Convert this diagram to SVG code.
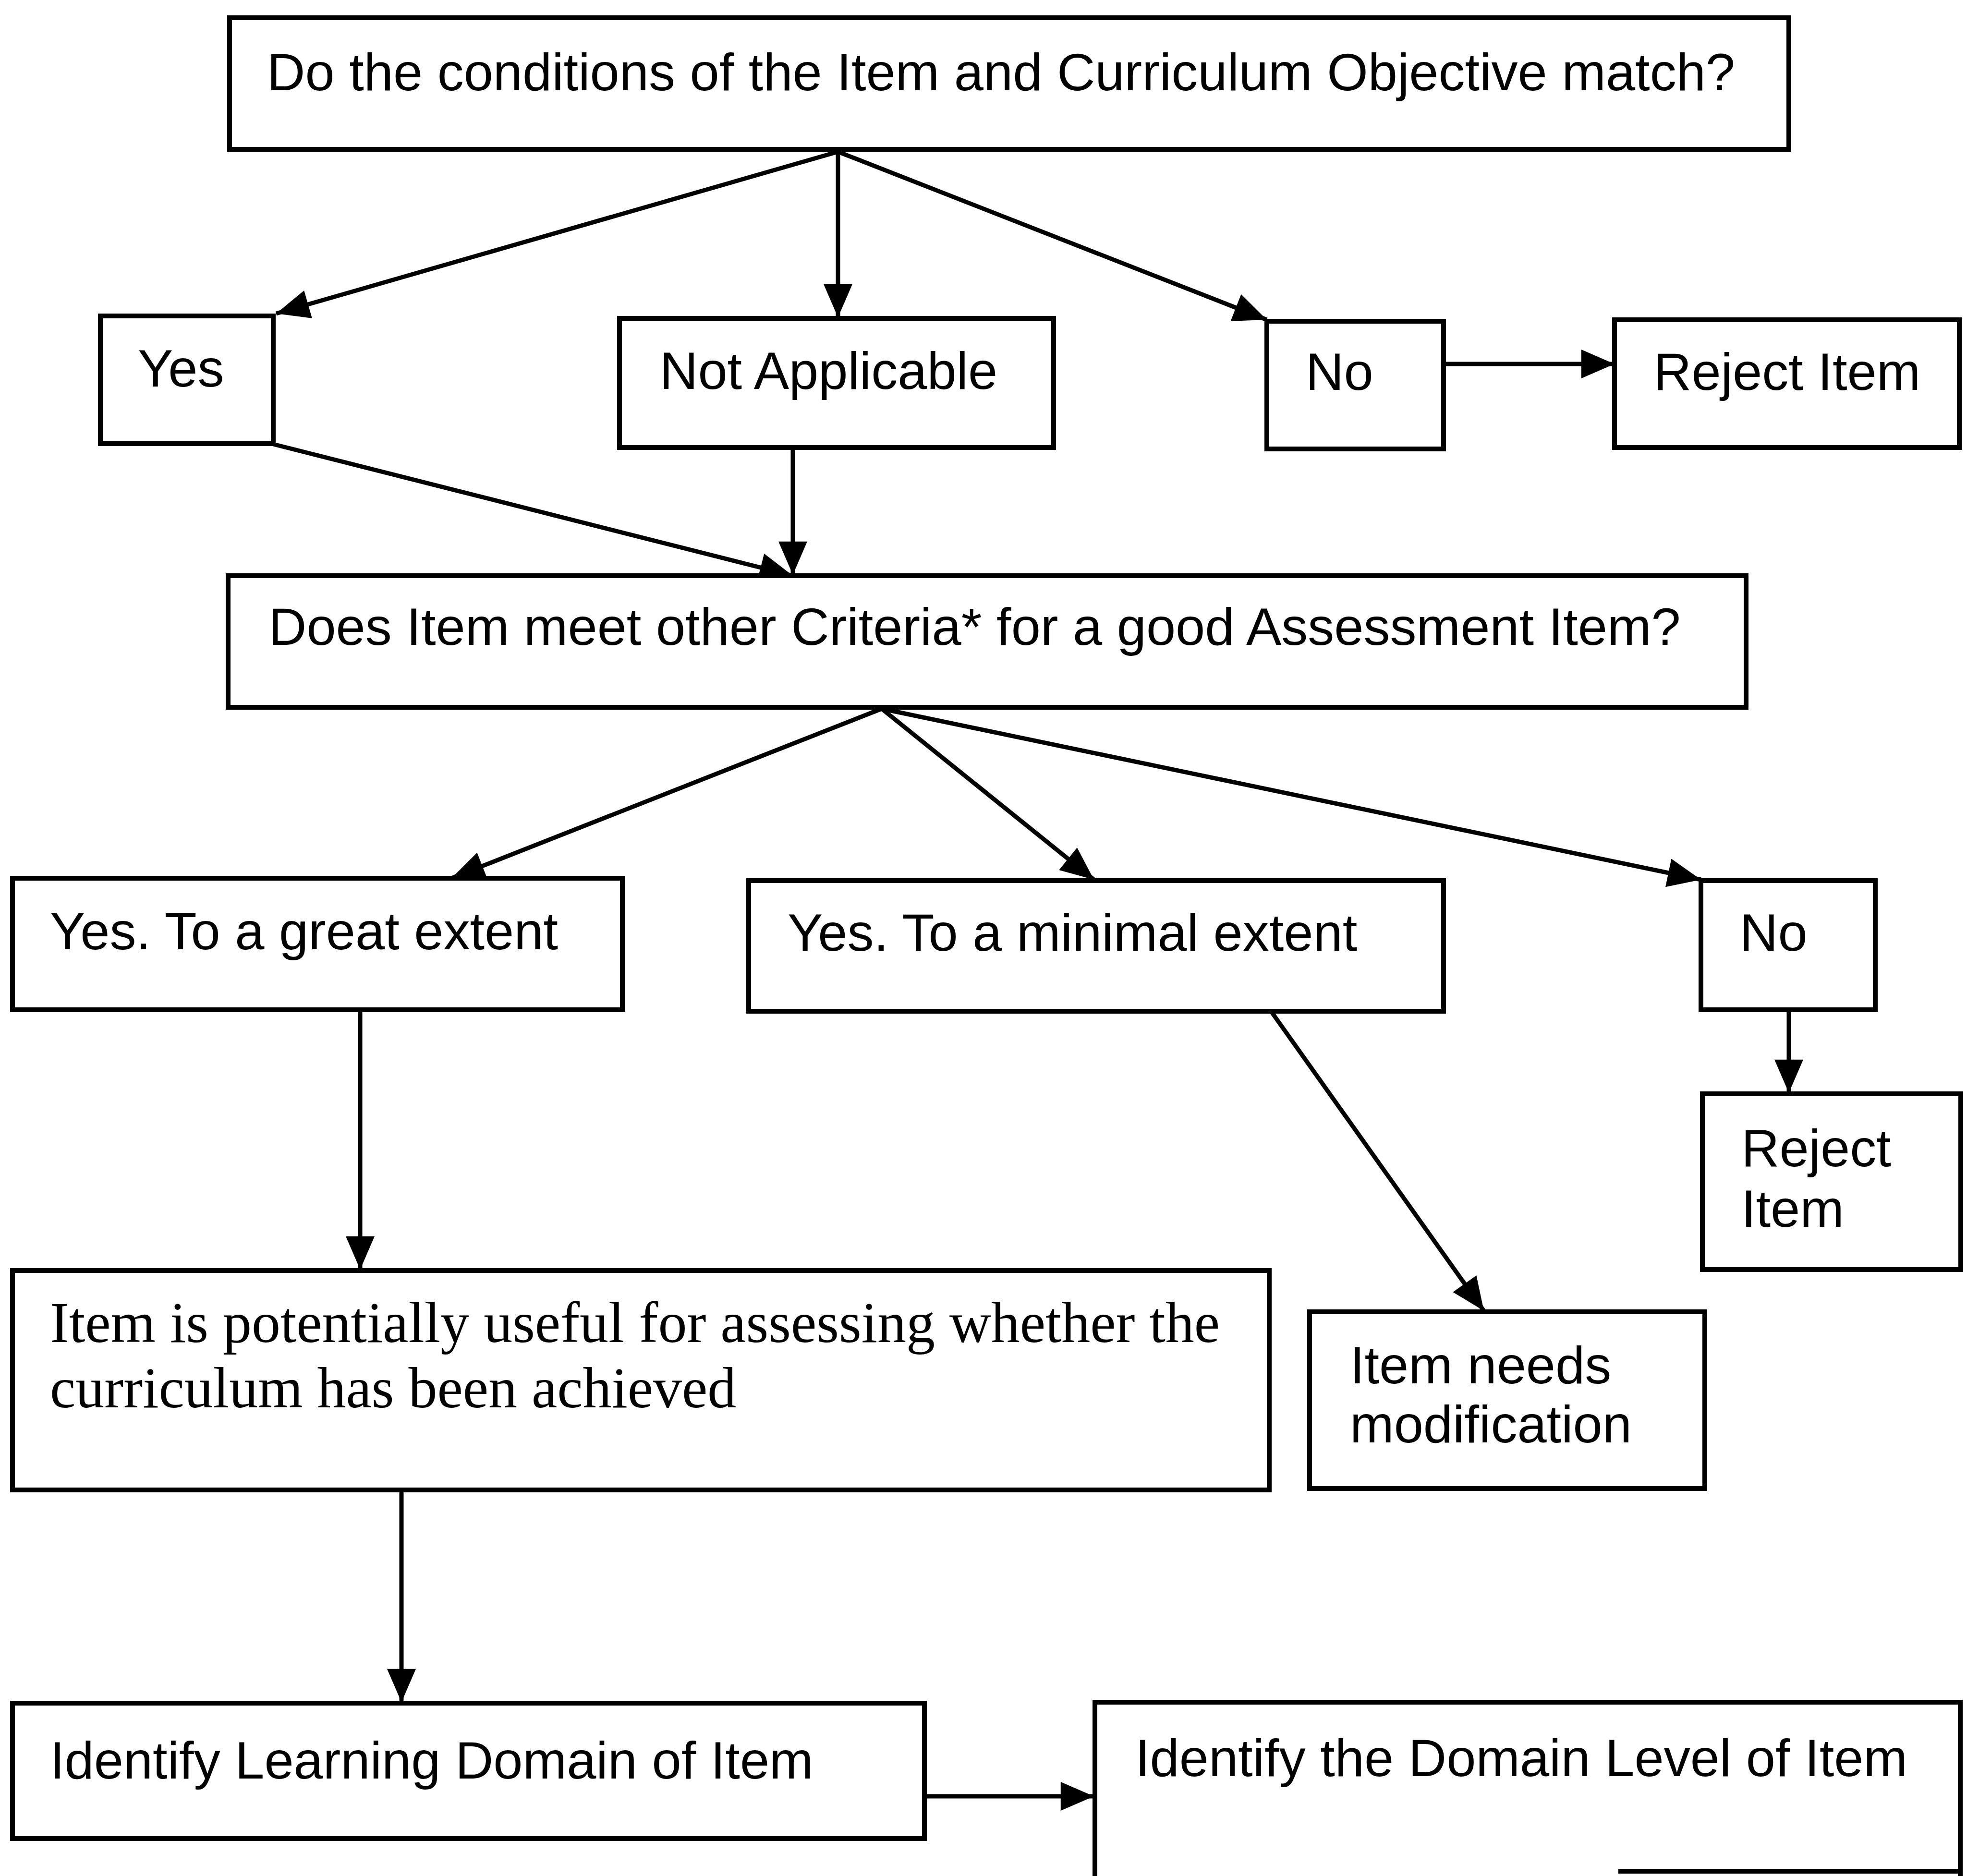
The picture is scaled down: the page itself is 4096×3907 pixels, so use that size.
<svg xmlns="http://www.w3.org/2000/svg" width="4096" height="3907" viewBox="0 0 4096 3907">
<style>
.box{fill:#fff;stroke:#000;stroke-width:10}
.t{font-family:"Liberation Sans",Arial,sans-serif;font-size:110px;fill:#000}
.s{font-family:"Liberation Serif","Times New Roman",serif;font-size:120px;fill:#000}
.c{stroke:#000;stroke-width:9;fill:none;marker-end:url(#ah)}
</style>
<defs>
<marker id="ah" markerUnits="userSpaceOnUse" markerWidth="70" markerHeight="60" viewBox="0 0 60 52" refX="60" refY="26" orient="auto">
<path d="M0,0 L60,26 L0,52 Z" fill="#000"/>
</marker>
</defs>
<rect width="4096" height="3907" fill="#fff"/>
<g id="connectors">
<line class="c" x1="1745" y1="316" x2="575" y2="653"/>
<line class="c" x1="1745" y1="316" x2="1745" y2="661"/>
<line class="c" x1="1745" y1="316" x2="2638" y2="666"/>
<line class="c" x1="3007" y1="758" x2="3362" y2="758"/>
<line class="c" x1="569" y1="925" x2="1651" y2="1199"/>
<line class="c" x1="1651" y1="933" x2="1651" y2="1197"/>
<line class="c" x1="1836" y1="1476" x2="940" y2="1829"/>
<line class="c" x1="1836" y1="1476" x2="2278" y2="1832"/>
<line class="c" x1="1836" y1="1476" x2="3542" y2="1832"/>
<line class="c" x1="3725" y1="2103" x2="3725" y2="2276"/>
<line class="c" x1="750" y1="2103" x2="750" y2="2644"/>
<line class="c" x1="2646" y1="2105" x2="3090" y2="2730"/>
<line class="c" x1="836" y1="3103" x2="836" y2="3545"/>
<line class="c" x1="1925" y1="3741" x2="2278" y2="3741"/>
</g>
<g id="q1">
<rect class="box" x="478" y="37" width="3247" height="274"/>
<text class="t" x="556" y="188">Do the conditions of the Item and Curriculum Objective match?</text>
</g>
<g id="yes1">
<rect class="box" x="209" y="658" width="360" height="266"/>
<text class="t" x="287" y="805">Yes</text>
</g>
<g id="na">
<rect class="box" x="1290" y="663" width="904" height="269"/>
<text class="t" x="1374" y="810">Not Applicable</text>
</g>
<g id="no1">
<rect class="box" x="2638" y="669" width="368" height="266"/>
<text class="t" x="2719" y="812">No</text>
</g>
<g id="reject1">
<rect class="box" x="3362" y="666" width="718" height="266"/>
<text class="t" x="3443" y="812">Reject Item</text>
</g>
<g id="q2">
<rect class="box" x="475" y="1199" width="3161" height="274"/>
<text class="t" x="559" y="1343">Does Item meet other Criteria* for a good Assessment Item?</text>
</g>
<g id="great">
<rect class="box" x="26" y="1829" width="1270" height="274"/>
<text class="t" x="104" y="1977">Yes. To a great extent</text>
</g>
<g id="minimal">
<rect class="box" x="1559" y="1834" width="1447" height="272"/>
<text class="t" x="1640" y="1980">Yes. To a minimal extent</text>
</g>
<g id="no2">
<rect class="box" x="3542" y="1834" width="363" height="269"/>
<text class="t" x="3623" y="1980">No</text>
</g>
<g id="reject2">
<rect class="box" x="3545" y="2278" width="538" height="366"/>
<text class="t" x="3626" y="2429">Reject</text>
<text class="t" x="3626" y="2555">Item</text>
</g>
<g id="useful">
<rect class="box" x="26" y="2646" width="2617" height="457"/>
<text class="s" x="104" y="2795">Item is potentially useful for assessing whether the</text>
<text class="s" x="104" y="2931">curriculum has been achieved</text>
</g>
<g id="modify">
<rect class="box" x="2727" y="2732" width="823" height="368"/>
<text class="t" x="2811" y="2881">Item needs</text>
<text class="t" x="2811" y="3004">modification</text>
</g>
<g id="domain">
<rect class="box" x="26" y="3547" width="1899" height="282"/>
<text class="t" x="104" y="3704">Identify Learning Domain of Item</text>
</g>
<g id="level">
<path class="box" d="M2280,3907 L2280,3545 L4082,3545 L4082,3907"/>
<line x1="3370" y1="3897" x2="4082" y2="3897" stroke="#000" stroke-width="10"/>
<text class="t" x="2364" y="3699">Identify the Domain Level of Item</text>
</g>
</svg>
